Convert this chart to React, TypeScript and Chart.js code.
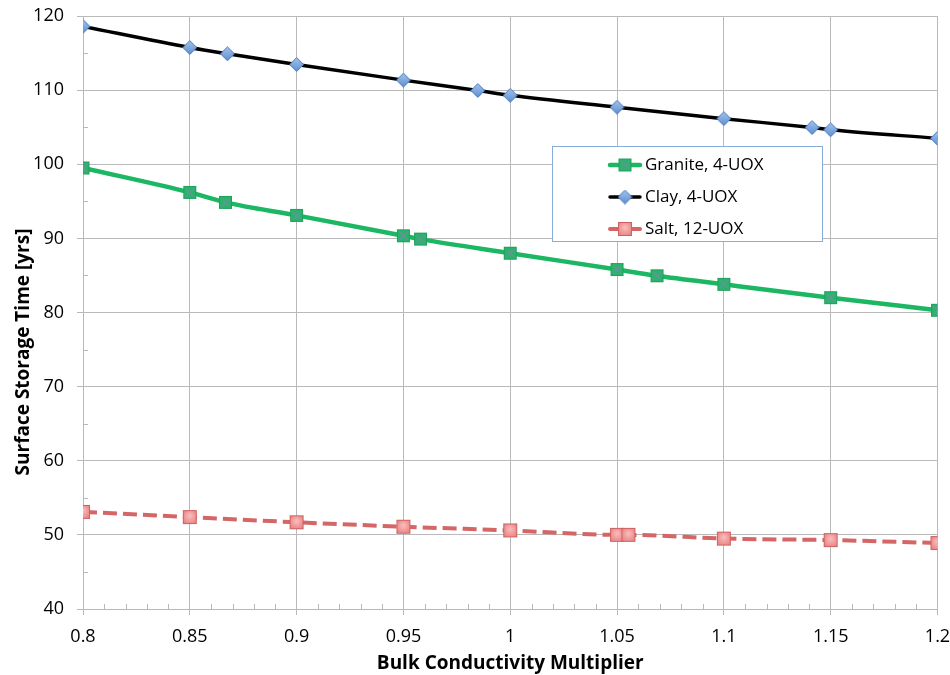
import React, { useEffect, useRef } from "react";
import { Chart, registerables } from "chart.js";

Chart.register(...registerables);

// ---- Data ----
const graniteX = [0.8, 0.85, 0.8667, 0.9, 0.95, 0.958, 1.0, 1.05, 1.0687, 1.1, 1.15, 1.2];
const graniteY = [99.5, 96.2, 94.85, 93.1, 90.35, 89.9, 88.0, 85.8, 84.95, 83.8, 82.0, 80.3];

const clayX = [0.8, 0.85, 0.8676, 0.9, 0.95, 0.9848, 1.0, 1.05, 1.1, 1.1413, 1.15, 1.2];
const clayY = [118.6, 115.75, 114.9, 113.45, 111.35, 109.95, 109.3, 107.7, 106.15, 104.95, 104.65, 103.5];

const saltX = [0.8, 0.85, 0.9, 0.95, 1.0, 1.05, 1.0553, 1.1, 1.15, 1.2];
const saltY = [53.1, 52.4, 51.7, 51.1, 50.6, 50.0, 50.0, 49.5, 49.3, 48.9];

const seriesNames = ["Granite, 4-UOX", "Clay, 4-UOX", "Salt, 12-UOX"];
const xTitle = "Bulk Conductivity Multiplier";
const yTitle = "Surface Storage Time [yrs]";

const X_MIN = 0.8;
const X_MAX = 1.2;
const X_STEP = 0.05;
const X_MINOR = 0.01;
const Y_MIN = 40;
const Y_MAX = 120;
const Y_STEP = 10;
const Y_MINOR = 5;

const FONT = "'Open Sans', 'DejaVu Sans', sans-serif";
const GRID = "#b9b9b9";

function toPoints(xs: number[], ys: number[]) {
  return xs.map((x, i) => ({ x, y: ys[i] }));
}

function makeCanvas(w: number, h: number, draw: (ctx: CanvasRenderingContext2D) => void) {
  const c = document.createElement("canvas");
  c.width = w;
  c.height = h;
  const ctx = c.getContext("2d")!;
  draw(ctx);
  return c;
}

export default function App() {
  const ref = useRef<HTMLCanvasElement | null>(null);

  useEffect(() => {
    const canvas = ref.current;
    if (!canvas) return;

    const graniteMarker = makeCanvas(15, 15, (ctx) => {
      ctx.fillStyle = "#27b569";
      ctx.fillRect(1, 1, 13, 13);
      ctx.strokeStyle = "#21a15c";
      ctx.lineWidth = 1;
      ctx.strokeRect(1.5, 1.5, 12, 12);
      ctx.strokeStyle = "rgba(125,135,175,0.9)";
      ctx.lineWidth = 1.1;
      ctx.beginPath();
      ctx.moveTo(3.5, 3.5);
      ctx.lineTo(11.5, 11.5);
      ctx.moveTo(11.5, 3.5);
      ctx.lineTo(3.5, 11.5);
      ctx.stroke();
    });

    const clayMarker = makeCanvas(15, 15, (ctx) => {
      const g = ctx.createLinearGradient(0, 0, 0, 15);
      g.addColorStop(0, "#a7c6ee");
      g.addColorStop(1, "#5b8dcf");
      ctx.fillStyle = g;
      ctx.beginPath();
      ctx.moveTo(7.5, 0.6);
      ctx.lineTo(14.4, 7.5);
      ctx.lineTo(7.5, 14.4);
      ctx.lineTo(0.6, 7.5);
      ctx.closePath();
      ctx.fill();
      ctx.strokeStyle = "#4a7bbd";
      ctx.lineWidth = 1;
      ctx.stroke();
    });

    const saltMarker = makeCanvas(16, 16, (ctx) => {
      const g = ctx.createRadialGradient(8, 6.5, 1, 8, 8, 10);
      g.addColorStop(0, "#f9b8b8");
      g.addColorStop(1, "#e37474");
      ctx.fillStyle = g;
      ctx.fillRect(1, 1, 14, 14);
      ctx.strokeStyle = "#d06161";
      ctx.lineWidth = 1;
      ctx.strokeRect(1.5, 1.5, 13, 13);
    });

    const styles = [
      { color: "#1bb763", width: 4.5, dash: [] as number[], marker: graniteMarker },
      { color: "#000000", width: 3.5, dash: [] as number[], marker: clayMarker },
      { color: "#d46666", width: 4, dash: [14, 6], marker: saltMarker },
    ];

    const fmt = (v: number) => String(parseFloat(Number(v).toFixed(2)));

    const extras = {
      id: "extras",
      beforeDatasetsDraw(chart: any) {
        const { ctx, chartArea, scales } = chart;
        const xs = scales.x;
        const ys = scales.y;
        ctx.save();
        ctx.strokeStyle = GRID;
        ctx.lineWidth = 1;
        ctx.beginPath();
        const nx = Math.round((X_MAX - X_MIN) / X_MINOR);
        for (let i = 0; i <= nx; i++) {
          if (i % Math.round(X_STEP / X_MINOR) === 0) continue;
          const px = Math.round(xs.getPixelForValue(X_MIN + i * X_MINOR)) + 0.5;
          ctx.moveTo(px, chartArea.bottom);
          ctx.lineTo(px, chartArea.bottom - 5);
        }
        const ny = Math.round((Y_MAX - Y_MIN) / Y_MINOR);
        for (let i = 0; i <= ny; i++) {
          if (i % Math.round(Y_STEP / Y_MINOR) === 0) continue;
          const py = Math.round(ys.getPixelForValue(Y_MIN + i * Y_MINOR)) + 0.5;
          ctx.moveTo(chartArea.left, py);
          ctx.lineTo(chartArea.left + 5, py);
        }
        ctx.stroke();
        ctx.restore();
      },
      afterDraw(chart: any) {
        const { ctx } = chart;
        ctx.save();
        // y-axis title
        ctx.translate(24, 352);
        ctx.rotate(-Math.PI / 2);
        ctx.fillStyle = "#000";
        ctx.font = `bold 19px ${FONT}`;
        ctx.textAlign = "center";
        ctx.textBaseline = "middle";
        ctx.fillText(yTitle, 0, 0);
        ctx.restore();

        // legend box
        ctx.save();
        const bx = 552.5, by = 146.5, bw = 270, bh = 95;
        ctx.fillStyle = "#ffffff";
        ctx.fillRect(bx, by, bw, bh);
        ctx.strokeStyle = "#86acd9";
        ctx.lineWidth = 1;
        ctx.strokeRect(bx, by, bw, bh);
        const rows = [165, 197, 229];
        seriesNames.forEach((name, i) => {
          const s = styles[i];
          const y = rows[i];
          ctx.strokeStyle = s.color;
          ctx.lineWidth = s.width;
          ctx.setLineDash([]);
          ctx.lineCap = "round";
          ctx.beginPath();
          ctx.moveTo(610, y);
          ctx.lineTo(640, y);
          ctx.stroke();
          ctx.drawImage(s.marker, 625 - s.marker.width / 2, y - s.marker.height / 2);
          ctx.fillStyle = "#000";
          ctx.font = `17px ${FONT}`;
          ctx.textAlign = "left";
          ctx.textBaseline = "middle";
          ctx.fillText(name, 645, y);
        });
        ctx.restore();
      },
    };

    const chart = new Chart(canvas, {
      type: "scatter",
      data: {
        datasets: [
          {
            label: seriesNames[2],
            data: toPoints(saltX, saltY),
            showLine: true,
            borderColor: styles[2].color,
            borderWidth: styles[2].width,
            borderDash: styles[2].dash,
            pointStyle: saltMarker,
            pointRadius: 8,
            cubicInterpolationMode: "monotone",
          },
          {
            label: seriesNames[0],
            data: toPoints(graniteX, graniteY),
            showLine: true,
            borderColor: styles[0].color,
            borderWidth: styles[0].width,
            pointStyle: graniteMarker,
            pointRadius: 8,
            cubicInterpolationMode: "monotone",
          },
          {
            label: seriesNames[1],
            data: toPoints(clayX, clayY),
            showLine: true,
            borderColor: styles[1].color,
            borderWidth: styles[1].width,
            pointStyle: clayMarker,
            pointRadius: 8,
            cubicInterpolationMode: "monotone",
          },
        ] as any,
      },
      options: {
        responsive: false,
        animation: false,
        layout: { padding: { left: 0, right: 12, top: 16, bottom: 0 } },
        plugins: {
          legend: { display: false },
          tooltip: { enabled: false },
        },
        scales: {
          x: {
            type: "linear",
            min: X_MIN,
            max: X_MAX,
            ticks: {
              stepSize: X_STEP,
              callback: (v: any) => fmt(v),
              color: "#000",
              font: { family: FONT, size: 18 },
              padding: 11,
              maxRotation: 0,
            },
            grid: { color: GRID, tickLength: 6, tickColor: GRID, drawTicks: true },
            border: { color: GRID },
            title: {
              display: true,
              text: xTitle,
              color: "#000",
              font: { family: FONT, size: 19, weight: "bold" },
              padding: { top: 0, bottom: 0 },
            },
            afterFit: (scale: any) => {
              scale.height = 66;
              scale.paddingLeft = 0;
              scale.paddingRight = 0;
            },
          },
          y: {
            type: "linear",
            min: Y_MIN,
            max: Y_MAX,
            ticks: {
              stepSize: Y_STEP,
              color: "#000",
              font: { family: FONT, size: 18 },
              padding: 13,
            },
            grid: { color: GRID, tickLength: 6, tickColor: GRID, drawTicks: true },
            border: { color: GRID },
            afterFit: (scale: any) => {
              scale.width = 83;
              scale.paddingTop = 0;
              scale.paddingBottom = 0;
            },
          },
        },
      } as any,
      plugins: [extras],
    });

    return () => chart.destroy();
  }, []);

  return (
    <div style={{ position: "fixed", left: 0, top: 0, width: 950, height: 675, background: "#fff" }}>
      <canvas ref={ref} width={950} height={675} style={{ display: "block", width: 950, height: 675 }} />
    </div>
  );
}
